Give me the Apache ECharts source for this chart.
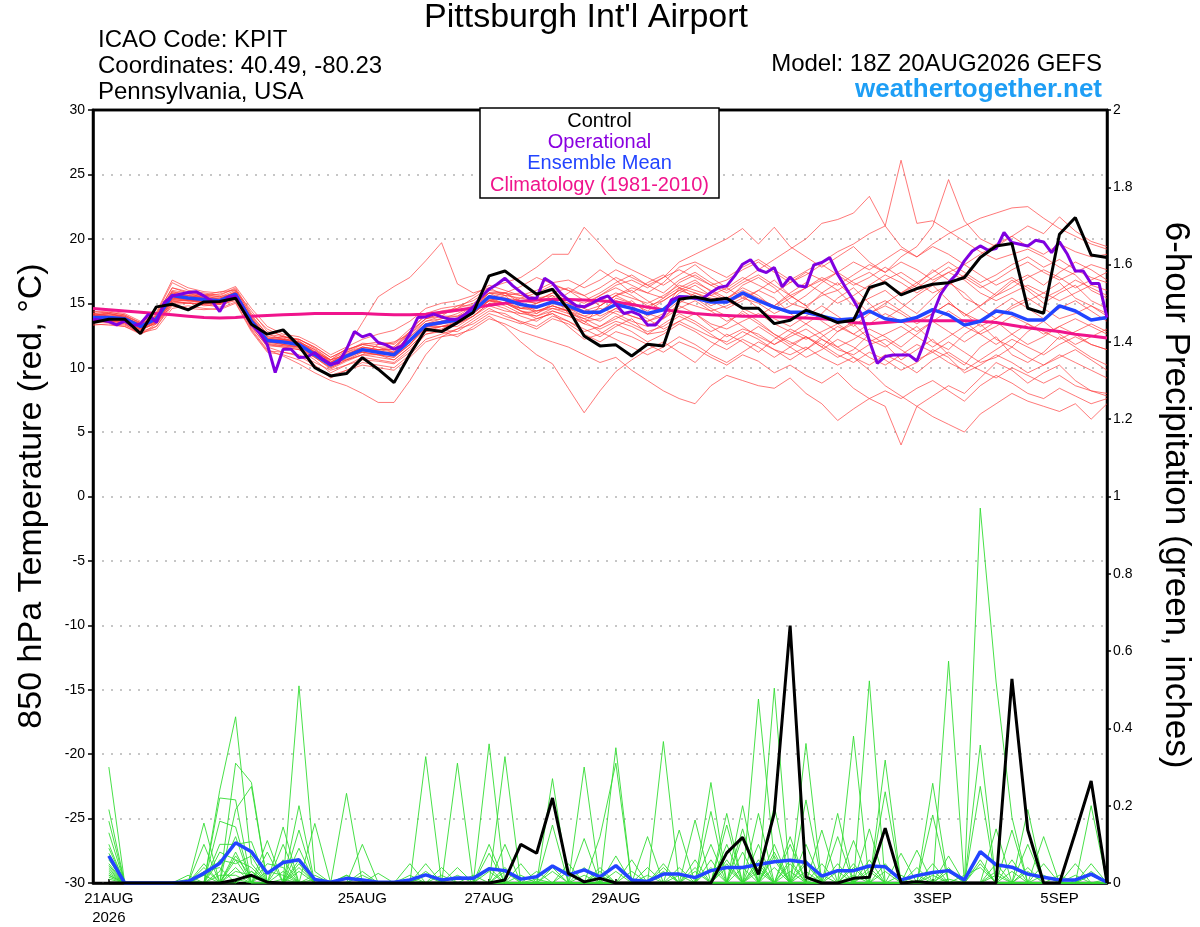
<!DOCTYPE html>
<html><head><meta charset="utf-8">
<script src="https://cdn.jsdelivr.net/npm/echarts@6/dist/echarts.min.js"></script>
<style>html,body{margin:0;padding:0;background:#fff}#chart{width:1200px;height:927px}</style>
</head><body><div id="chart"></div>
<script>
// ---------- axis / tick labels ----------
const tickHours = [6, 54, 102, 150, 198, 270, 318, 366];
const tickLabels = ['21AUG\n2026', '23AUG', '25AUG', '27AUG', '29AUG', '1SEP', '3SEP', '5SEP'];
// forecast hours (6-hourly temp from 0h, 3-hourly operational, 6-hourly precip from 6h)
const tempHours = []; for (let h = 0; h <= 384; h += 6) tempHours.push(h);
const opHours = []; for (let h = 0; h <= 384; h += 3) opHours.push(h);
const precipHours = []; for (let h = 6; h <= 384; h += 6) precipHours.push(h);

// ---------- 850 hPa temperature ----------
const controlTemp = [13.5,13.76,13.76,12.65,14.72,14.92,14.48,15.1,15.13,15.39,
 13.37,12.6,12.93,11.69,10.0,9.36,9.54,10.78,9.88,8.84,
 11.04,12.98,12.8,13.5,14.28,17.12,17.5,16.6,15.7,16.09,
 14.53,12.46,11.69,11.77,10.91,11.82,11.69,15.31,15.49,15.23,
 15.39,14.61,14.61,13.42,13.68,14.46,14.02,13.5,13.68,16.22,
 16.6,15.65,16.14,16.47,16.6,17.0,18.55,19.45,19.63,14.61,
 14.22,20.36,21.65,18.75,18.55];
const operationalTemp = [13.76,13.68,13.58,13.32,13.63,13.24,13.42,14.15,
 13.5,15.05,15.57,15.7,15.83,15.9,15.57,15.18,
 14.35,15.44,15.57,14.4,13.37,12.72,11.8,9.62,
 11.43,11.43,10.78,10.83,11.17,10.65,10.27,10.4,
 11.43,12.8,12.39,12.6,11.95,11.77,11.43,11.7,
 12.6,13.89,13.94,14.15,13.94,13.76,13.76,14.15,
 14.7,15.5,16.09,16.47,16.94,16.35,15.86,15.39,
 15.38,16.94,16.55,15.8,15.25,14.8,14.72,15.0,
 15.35,15.57,14.92,14.2,14.35,14.1,13.32,13.32,
 14.02,15.26,15.49,15.49,15.39,15.39,15.83,16.22,
 16.35,17.12,18.03,18.38,17.6,17.38,17.77,16.27,
 17.04,16.35,16.27,17.98,18.16,18.54,17.25,16.22,
 15.23,14.15,12.08,10.34,10.86,10.99,10.99,10.99,
 10.52,12.08,14.15,15.7,16.6,17.25,18.29,19.06,
 19.45,19.11,19.24,20.49,19.71,19.58,19.45,19.89,
 19.76,18.93,19.76,18.8,17.5,17.5,16.53,16.53,
 13.89];
const meanTemp = [13.9,13.9,13.8,13.2,13.8,15.6,15.4,15.3,15.2,15.7,
 13.6,12.1,12.0,11.8,11.0,10.2,10.9,11.4,11.2,11.0,
 12.1,13.3,13.5,13.7,14.4,15.5,15.3,14.9,14.7,15.1,
 14.8,14.3,14.3,14.9,14.6,14.2,14.5,15.5,15.4,15.1,
 15.1,15.8,15.2,14.7,14.3,14.3,14.0,13.7,13.8,14.4,
 13.8,13.6,13.9,14.5,14.1,13.3,13.6,14.4,14.2,13.7,
 13.7,14.8,14.4,13.7,13.9];
const climatologyTemp = [14.6,14.5,14.4,14.3,14.2,14.1,14.0,13.9,13.85,13.9,
 14.0,14.05,14.1,14.15,14.2,14.2,14.2,14.2,14.15,14.1,
 14.1,14.15,14.3,14.45,14.65,14.85,15.0,15.15,15.25,15.3,
 15.3,15.25,15.2,15.1,14.9,14.7,14.5,14.35,14.2,14.1,
 14.05,14.0,14.0,13.95,13.9,13.85,13.8,13.7,13.5,13.4,
 13.5,13.6,13.65,13.65,13.65,13.65,13.6,13.5,13.3,13.1,
 12.95,12.8,12.6,12.45,12.3];

const tempMember01 = [14.2,14.0,13.6,13.0,14.1,16.2,15.8,15.6,15.9,16.0, 14.4,12.8,12.5,11.9,11.3,10.5,10.6,11.0,11.8,12.0, 12.6,13.6,14.0,14.8,15.2,16.0,15.8,16.3,17.0,16.5, 16.0,15.6,16.2,17.0,16.4,15.8,16.6,17.8,18.2,17.6, 17.0,17.8,18.4,17.6,16.8,17.5,18.2,19.0,19.6,20.4, 21.0,26.1,21.2,21.4,20.6,19.8,19.0,18.4,18.8,19.2, 18.6,17.8,17.2,16.0,15.4];
const tempMember02 = [13.6,13.5,13.3,12.8,13.2,15.0,15.1,14.8,14.9,15.2, 13.2,11.6,11.2,11.0,10.4,9.8,10.2,10.6,10.5,10.3, 11.2,12.6,12.9,12.8,13.6,14.4,14.2,13.5,13.0,13.8, 13.4,12.6,12.0,12.8,12.4,11.8,11.2,12.0,11.5,10.8, 10.2,11.0,10.5,9.6,10.2,9.4,8.8,9.6,8.4,7.6, 7.0,4.0,7.0,7.8,8.6,8.0,9.2,10.4,9.8,8.8, 9.6,10.2,9.0,8.2,7.8];
const tempMember03 = [14.0,14.3,14.1,13.4,13.9,15.8,15.5,15.6,15.3,15.9, 13.8,12.3,11.8,11.6,11.2,10.6,11.5,13.5,15.5,16.3, 17.0,18.3,19.7,16.5,15.8,16.2,15.6,14.6,15.0,15.6, 14.2,13.4,14.8,15.6,16.0,15.2,14.4,16.2,16.8,15.9, 15.2,16.4,17.0,16.2,15.0,14.6,15.8,16.6,15.4,14.2, 15.0,15.8,16.4,17.6,16.8,15.4,14.8,15.6,16.6,17.2, 16.4,17.4,18.2,17.6,16.8];
const tempMember04 = [13.5,13.7,13.4,12.6,13.4,14.9,15.0,14.9,14.7,15.4, 13.0,11.4,10.9,10.3,9.6,9.0,8.6,8.0,7.3,7.3, 9.0,11.0,12.4,13.0,13.8,14.6,14.0,13.6,13.2,14.0, 13.6,13.0,12.4,13.2,13.8,12.6,13.4,14.2,13.6,12.8, 13.4,14.4,13.6,12.6,11.8,12.4,11.6,10.8,11.4,12.6, 11.8,10.6,11.4,12.2,11.0,10.2,11.6,12.4,11.0,10.4, 11.2,12.4,11.6,10.8,10.2];
const tempMember05 = [14.3,14.4,14.2,13.6,14.2,16.6,16.0,15.8,15.6,16.2, 14.2,13.0,12.4,12.2,11.6,10.8,11.4,11.8,12.0,11.8, 12.8,13.8,14.2,14.6,15.4,16.2,16.6,17.0,17.8,18.8, 18.8,20.9,19.6,18.2,17.6,17.0,16.4,17.2,18.0,17.0, 16.2,15.4,16.0,16.8,15.6,14.8,15.6,16.0,14.8,15.4, 16.0,15.0,14.2,15.4,16.6,15.8,14.6,13.8,14.6,15.2, 15.8,16.6,15.4,14.8,14.2];
const tempMember06 = [13.7,13.6,13.5,12.9,13.5,15.2,15.0,14.9,15.0,15.5, 13.4,11.8,11.6,11.4,10.6,9.6,10.2,10.8,10.6,10.4, 11.4,12.6,12.8,12.4,13.2,14.0,13.2,12.0,11.0,10.3, 8.4,6.5,8.2,9.7,10.6,11.4,12.0,11.2,10.4,11.6, 12.6,12.0,11.2,12.2,13.0,12.4,11.6,12.8,13.4,12.2, 11.6,12.4,13.2,12.0,11.4,12.6,13.4,12.2,11.6,12.8, 13.6,12.6,11.8,12.4,13.0];
const tempMember07 = [14.1,14.2,13.9,13.4,14.0,15.9,15.7,15.5,15.4,15.8, 13.9,12.4,12.2,12.0,11.4,10.4,11.0,11.6,11.4,11.2, 12.4,13.6,13.8,14.2,14.8,15.8,15.6,15.4,15.2,15.8, 15.4,15.0,15.6,16.4,16.8,16.2,17.0,18.2,18.8,19.4, 20.0,20.8,19.6,20.9,19.4,18.6,17.8,18.6,19.4,18.2, 17.4,18.2,17.6,16.8,17.4,18.0,17.2,16.4,17.0,16.2, 15.4,16.0,16.8,16.2,15.6];
const tempMember08 = [13.4,13.3,13.2,12.7,13.0,14.6,14.8,14.6,14.5,15.0, 12.8,11.2,11.0,10.6,10.0,9.4,9.8,10.2,10.0,9.8, 10.8,12.0,12.4,12.6,13.0,13.8,13.4,12.8,12.4,12.0, 11.6,11.0,10.4,10.8,9.8,9.0,8.2,7.6,7.2,8.6, 9.4,9.0,8.6,8.4,9.2,8.0,7.2,5.9,6.8,7.6, 8.2,7.6,8.4,9.0,8.2,7.4,8.6,9.4,8.8,8.0, 7.6,8.4,7.8,7.2,7.6];
const tempMember09 = [13.8,14.0,13.9,13.3,13.7,15.4,15.6,15.4,15.2,15.6, 13.5,12.0,11.9,11.9,11.2,10.4,11.2,11.8,11.6,11.6, 12.6,13.8,14.2,14.4,14.6,15.2,15.0,15.4,15.8,16.4, 16.0,15.2,15.8,16.6,17.2,16.4,15.8,16.8,17.4,16.6, 16.0,16.8,17.6,18.4,19.2,20.0,21.2,21.5,22.0,23.3, 21.0,19.4,18.6,19.6,20.4,21.0,21.6,22.0,22.4,22.5, 21.6,20.8,20.2,19.6,19.2];
const tempMember10 = [14.0,13.8,13.7,13.1,13.6,15.5,15.3,15.2,15.1,15.6, 13.7,12.2,12.2,12.0,11.2,10.4,11.2,11.6,11.4,11.4, 12.8,14.2,14.6,14.8,14.8,15.6,15.2,14.4,14.2,14.8, 14.4,13.8,14.2,15.4,15.0,14.4,15.2,16.0,15.6,14.8, 15.4,16.2,15.6,14.6,15.4,16.2,17.0,16.4,17.2,18.0, 17.4,18.6,19.4,21.0,24.6,21.4,20.0,19.4,20.2,21.0, 20.4,21.7,20.6,19.8,19.4];
const tempMember11 = [13.6,13.8,13.6,13.0,13.6,15.4,15.2,15.0,15.0,15.4, 13.4,11.9,11.7,11.5,10.8,10.0,10.6,11.2,11.0,10.8, 11.8,13.0,13.2,13.4,14.0,15.0,14.6,14.0,13.6,14.4, 14.0,13.4,13.0,13.6,13.2,12.6,12.8,13.6,13.0,12.4, 12.0,12.8,12.2,11.4,11.0,11.6,10.8,10.2,10.8,9.8, 8.6,7.8,7.0,6.2,5.6,5.0,6.4,7.2,8.0,7.4, 7.0,6.6,7.2,6.0,7.2];
const tempMember12 = [14.4,14.2,14.0,13.5,14.3,16.8,16.2,15.9,15.8,16.3, 14.6,13.2,12.6,12.4,11.8,11.0,11.6,12.2,12.6,12.9, 13.6,14.6,15.0,15.2,15.6,16.4,16.0,15.6,15.2,15.8, 16.2,15.6,14.8,15.6,16.2,15.8,15.4,16.6,17.2,16.4, 15.8,16.6,17.2,16.4,15.6,16.2,16.8,17.4,16.6,16.0, 16.8,17.4,16.6,15.8,16.4,17.2,16.4,15.6,16.2,17.0, 17.6,17.0,16.2,16.8,17.4];
const tempMember13 = [13.3,13.4,13.2,12.6,13.2,14.8,14.6,14.5,14.6,15.1, 12.9,11.3,11.2,10.9,10.2,9.2,9.8,10.4,10.2,10.0, 11.0,12.2,12.6,13.0,13.4,14.2,13.8,13.4,13.8,14.2, 13.2,12.2,12.6,13.4,12.8,12.0,12.6,13.4,12.8,12.0, 11.4,12.2,11.6,10.8,11.6,12.4,11.8,11.0,10.4,11.2, 10.6,9.8,10.4,11.4,10.8,9.6,10.2,11.0,10.4,9.6, 10.2,11.0,10.4,9.8,9.2];
const tempMember14 = [14.2,14.1,14.0,13.3,13.9,15.6,15.6,15.7,15.5,15.8, 13.8,12.0,11.8,11.6,10.8,10.0,10.6,11.0,11.0,10.8, 11.8,13.2,13.6,13.8,14.6,15.8,15.8,15.2,15.0,15.4, 15.2,14.6,14.0,14.6,15.2,14.2,13.8,15.0,15.8,15.4, 15.0,15.6,14.6,13.8,13.2,14.0,14.8,14.0,13.2,14.2, 14.8,14.2,13.4,14.2,15.0,14.2,13.6,14.6,15.4,14.6, 13.8,14.6,15.2,14.4,13.6];
const tempMember15 = [13.9,13.7,13.5,13.0,13.5,15.3,15.4,15.6,15.7,16.1, 14.0,12.6,12.2,11.8,11.2,10.6,11.0,11.2,11.0,10.6, 11.6,12.8,13.0,13.6,14.2,15.4,15.8,15.0,14.2,15.0, 15.8,16.6,17.6,16.8,15.8,16.6,17.2,16.2,15.4,14.6, 14.0,13.2,12.4,11.8,12.6,13.4,12.6,11.6,12.2,13.0, 12.4,11.6,12.6,13.6,12.8,12.0,12.8,13.6,12.6,11.8, 12.4,13.2,12.6,11.8,11.4];
const tempMember16 = [13.5,13.6,13.7,13.1,13.7,15.2,15.2,15.1,15.1,15.5, 13.3,12.0,12.1,12.0,11.4,10.6,11.0,11.2,11.0,11.2, 12.2,13.2,13.2,13.4,14.0,15.0,15.0,14.6,14.4,14.6, 14.4,14.0,13.6,14.4,14.0,13.6,14.2,15.2,14.8,14.4, 14.8,15.4,15.0,14.2,14.8,15.6,16.6,17.4,18.2,17.6, 18.4,19.2,18.6,19.4,18.8,18.0,18.8,19.6,20.2,19.4, 18.8,19.6,19.0,18.6,18.8];
const tempMember17 = [14.0,13.9,13.9,13.3,13.9,15.7,15.3,15.0,14.9,15.5, 13.5,12.1,12.2,12.2,11.6,10.8,11.4,11.8,11.6,11.2, 12.2,13.4,13.8,14.0,14.8,15.8,15.2,14.6,14.6,15.2, 14.6,14.2,14.6,14.2,13.6,13.2,13.8,14.6,15.2,14.4, 13.6,14.2,13.4,12.6,12.0,11.4,12.2,11.6,10.8,10.2, 11.0,10.4,9.6,10.6,11.2,10.4,9.8,9.2,10.0,9.4, 8.8,9.4,8.6,8.2,8.0];
const tempMember18 = [14.1,14.0,13.8,13.4,14.0,16.0,15.8,15.4,15.2,15.8, 13.7,12.2,12.4,12.1,11.2,10.2,10.8,11.4,11.4,11.6, 12.8,13.8,14.0,14.0,14.4,15.2,15.6,15.8,15.4,15.6, 15.0,14.6,15.2,15.8,15.4,15.0,15.6,16.4,16.0,15.6, 16.2,17.0,16.4,15.8,16.6,17.4,16.8,16.0,16.8,17.4, 16.6,15.8,16.6,17.4,18.2,17.4,16.6,17.2,18.0,18.6, 17.8,18.4,17.6,17.0,16.6];
const tempMember19 = [13.8,13.5,13.4,12.9,13.5,15.1,15.3,15.2,15.0,15.3, 13.1,11.7,11.6,11.4,10.8,9.9,10.5,11.0,10.8,10.6, 11.6,12.8,13.2,13.2,14.0,14.8,14.4,14.2,14.0,14.4, 14.0,13.6,13.8,14.6,14.0,13.6,14.0,14.8,14.2,13.4, 13.0,13.6,14.2,13.4,12.8,12.2,12.8,13.4,12.6,12.0, 12.6,13.2,12.4,11.6,12.4,13.2,12.6,11.8,12.6,13.4, 12.8,12.2,12.8,13.4,12.8];
const tempMember20 = [14.0,14.2,14.0,13.2,13.8,15.8,15.5,15.3,15.4,15.8, 13.8,12.2,12.0,11.8,11.0,10.2,11.0,11.6,11.4,11.4, 12.4,13.4,13.6,13.8,14.4,15.4,15.0,14.6,14.8,15.0, 14.6,14.0,14.4,15.2,14.8,14.0,14.6,15.8,16.4,15.6, 15.2,14.6,14.0,14.8,15.6,14.8,13.6,12.8,13.6,14.6, 15.2,14.4,13.6,14.2,15.0,14.2,13.2,13.8,14.8,15.4, 14.6,13.8,14.2,14.8,14.0];
const tempMember21 = [13.9,14.1,13.9,13.2,13.9,15.5,15.2,15.2,15.3,15.9, 13.9,12.4,12.3,11.9,11.0,10.1,10.7,11.3,11.2,11.1, 12.0,13.1,13.4,13.9,14.6,15.6,15.4,15.0,14.4,14.8, 14.4,14.8,15.6,16.2,15.6,14.8,15.2,16.0,16.6,16.0, 15.4,16.0,15.4,14.8,15.8,16.6,15.8,15.0,15.6,16.4, 17.2,16.6,15.8,16.6,17.4,16.8,15.8,15.2,15.8,16.4, 15.8,15.2,15.8,16.4,16.0];
const tempMember22 = [13.7,13.8,13.7,13.1,13.6,15.4,15.3,15.1,15.0,15.6, 13.6,12.0,11.8,11.7,10.9,10.1,10.8,11.4,11.3,11.0, 12.0,13.0,13.2,13.6,14.2,15.2,15.0,14.4,14.0,14.6, 14.2,13.8,13.2,13.8,14.4,13.8,13.0,13.6,14.2,13.2, 12.4,13.0,12.6,11.8,12.4,13.0,12.2,11.4,11.0,11.8, 12.2,11.4,10.6,11.2,12.0,11.2,10.4,10.8,11.6,10.8, 10.2,10.8,11.4,10.6,9.8];
const tempMember23 = [14.1,13.9,13.7,13.2,13.9,15.9,15.6,15.4,15.3,15.7, 13.8,12.3,12.1,11.9,11.1,10.3,11.1,11.5,11.3,11.1, 12.2,13.4,13.6,13.6,14.2,15.2,15.4,15.2,15.0,15.4, 15.0,14.4,14.8,15.6,15.0,14.6,15.4,16.2,15.8,15.2, 14.6,15.2,16.0,15.4,14.2,13.4,14.2,15.4,16.2,15.0, 13.8,14.6,15.6,16.4,15.2,14.0,14.8,15.8,16.8,16.0, 15.0,15.8,16.4,15.2,14.6];
const tempMember24 = [13.6,13.6,13.5,13.0,13.4,15.1,15.0,15.0,15.1,15.5, 13.3,11.8,11.7,11.6,10.9,10.2,10.9,11.4,11.2,10.9, 11.8,13.2,13.6,13.8,14.4,15.3,15.0,14.4,13.8,14.2, 13.6,12.8,13.2,14.0,13.4,12.8,13.2,14.0,13.4,12.6, 11.8,12.4,13.2,12.4,11.6,10.8,11.4,12.2,11.6,10.8, 10.2,11.0,11.8,11.2,10.4,9.8,10.6,11.4,12.2,11.6, 11.0,11.8,12.4,11.8,11.4];
const tempMember25 = [14.2,14.3,14.1,13.5,14.1,16.2,15.9,15.6,15.5,16.0, 14.1,12.6,12.4,12.2,11.5,10.6,11.3,11.9,11.8,11.9, 13.0,14.0,14.4,14.6,15.0,15.8,15.8,15.6,16.0,16.6, 16.8,16.2,16.8,17.6,17.0,16.4,17.0,17.6,17.0,16.4, 16.8,17.6,18.2,17.4,16.6,17.2,18.0,17.2,16.4,17.0, 17.8,17.0,16.2,17.0,17.8,17.0,16.2,16.8,17.6,18.2, 17.4,16.8,17.4,18.0,17.6];
const tempMember26 = [13.8,13.7,13.6,13.1,13.7,15.3,15.2,15.2,15.0,15.4, 13.5,12.1,12.0,11.8,11.0,10.2,10.8,11.3,11.1,11.0, 12.1,13.3,13.4,13.6,14.2,15.2,14.8,14.2,14.4,14.8, 14.4,13.6,12.8,12.2,11.6,11.0,11.6,12.4,11.8,11.0, 10.4,11.2,12.0,11.4,10.6,11.4,12.4,13.2,12.6,13.4, 14.2,13.6,12.8,13.6,14.4,13.6,12.6,13.2,14.0,13.4, 12.6,13.2,13.8,13.2,12.6];
const tempMembers = [tempMember01,tempMember02,tempMember03,tempMember04,tempMember05,tempMember06,tempMember07,tempMember08,tempMember09,tempMember10,
 tempMember11,tempMember12,tempMember13,tempMember14,tempMember15,tempMember16,tempMember17,tempMember18,tempMember19,tempMember20,
 tempMember21,tempMember22,tempMember23,tempMember24,tempMember25,tempMember26];

// ---------- 6-hour precipitation (inches) ----------
const controlPrecip = [0,0,0,0,0,0,0,0,0.008,0.02, 0.002,0,0,0,0,0,0,0,0,0, 0,0,0,0,0,0.008,0.1,0.077,0.22,0.025, 0.003,0.012,0,0,0,0,0,0,0,0.078, 0.118,0.022,0.181,0.666,0.015,0,0,0.012,0.015,0.142, 0,0.003,0,0,0,0,0,0.528,0.137,0, 0,0.13,0.264,0];
const meanPrecip = [0.07,0,0,0,0,0.004,0.025,0.051,0.104,0.081, 0.025,0.053,0.06,0.009,0.002,0.012,0.008,0.002,0.002,0.008, 0.021,0.008,0.013,0.012,0.037,0.032,0.01,0.016,0.044,0.021, 0.034,0.016,0.045,0.008,0.004,0.023,0.023,0.014,0.032,0.04, 0.04,0.048,0.055,0.059,0.053,0.018,0.032,0.032,0.044,0.042, 0.008,0.019,0.027,0.032,0.008,0.081,0.047,0.041,0.023,0.015, 0.008,0.008,0.023,0.002];
const precipMember01 = [.30,0,0,0,0,0,0,.24,.43,.05, 0,0,.51,.03,0,0,0,0,0,0, .327,0,0,0,.1,0,0,0,0,0, 0,0,.35,0,0,0,0,0,.1,0, 0,.476,.06,0,0,0,0,0,.06,0, 0,0,0,0,0,.97,.52,.17,0,0, 0,0,.05,0];
const precipMember02 = [.19,0,0,0,0,0,.155,0,.31,.26, 0,.06,0,0,0,.232,0,0,0,0, 0,0,.31,0,0,0,0,0,.27,0, 0,0,0,0,0,.366,0,0,0,.06, 0,0,.504,0,.1,0,0,0,0,.318, 0,0,0,.07,0,0,0,0,.19,0, 0,0,0,0];
const precipMember03 = [.16,0,0,0,0,0,0,.22,.215,0, .11,0,.2,0,0,0,.1,0,0,0, 0,0,0,0,.36,0,0,0,0,0, .30,0,0,0,.12,0,0,0,0,0, .2,0,0,0,.361,0,0,.11,0,0, 0,0,.258,0,0,.06,0,0,0,.12, 0,0,0,0];
const precipMember04 = [.13,0,0,0,0,0,.1,0,.19,.25, 0,.145,0,.154,0,0,0,0,0,0, 0,0,0,0,0,.327,0,0,0,0, 0,.12,.31,0,0,0,0,0,.26,0, 0,.18,0,0,0,0,.18,0,.523,0, 0,0,0,.574,0,0,0,0,0,0, 0,0,.2,0];
const precipMember05 = [.09,0,0,0,0,0,0,.16,.145,0, .08,0,.137,0,0,0,0,.025,0,0, 0,0,.04,0,0,.1,0,0,0,.05, 0,0,0,0,0,0,.137,0,0,.18, 0,0,0,.12,0,0,0,.38,0,0, 0,0,0,0,0,.357,0,.06,0,0, 0,0,0,0];
const precipMember06 = [.077,0,0,0,0,.02,0,.1,.1,.107, 0,0,.09,0,0,0,.03,0,0,0, .05,0,0,0,0,0,0,0,.15,0, 0,0,0,.06,0,0,0,.163,0,0, .14,0,.2,0,0,0,0,0,0,.236, 0,0,.176,0,0,0,.14,0,0,0, 0,0,0,0];
const precipMember07 = [.06,0,0,0,0,0,.05,0,.08,0, 0,.1,0,0,0,.02,0,0,0,.05, 0,0,0,0,.077,0,0,0,0,0, .115,0,0,0,0,.05,0,0,.185,0, 0,.1,0,0,.215,0,.12,0,0,0, .077,0,0,0,0,.25,0,0,.1,0, 0,0,0,0];
const precipMember08 = [.04,0,0,0,0,0,0,.06,.05,.07, 0,0,.05,0,0,0,0,0,0,0, 0,.04,0,0,0,0,.05,0,0,0, 0,.04,0,0,.04,0,0,0,0,.15, 0,0,0,.1,0,.137,0,0,.14,0, 0,.085,0,0,0,0,0,.137,0,0, 0,.05,0,0];
const precipMember09 = [.03,0,0,0,0,.01,0,0,.04,0, .05,.04,0,0,0,0,0,0,0,0, .03,0,0,0,0,0,0,.03,0,0, 0,0,.07,0,0,0,.04,0,0,0, .12,0,.1,0,0,0,.05,0,0,.05, 0,0,.05,0,0,0,0,0,0,.05, 0,0,0,0];
const precipMember10 = [.02,0,0,0,0,0,.03,.04,0,.03, 0,0,0,.02,0,0,0,0,0,0, 0,0,0,.02,0,0,0,0,.04,0, 0,0,0,.03,0,0,0,0,0,.1, 0,.05,0,0,0,.05,0,0,0,0, 0,.04,0,0,0,0,.05,0,0,0, .02,0,0,0];
const precipMember11 = [.05,0,0,0,0,0,0,0,.06,.04, 0,0,.06,0,0,0,0,0,0,0, 0,.02,0,0,0,.04,0,0,0,0, .04,0,0,0,0,0,0,.06,0,0, .08,0,0,.06,0,0,0,.04,0,0, 0,0,0,.03,0,0,0,0,.04,0, 0,0,0,.01];
const precipMember12 = [.1,0,0,0,0,0,0,.03,.12,0, .03,.02,0,0,0,0,0,0,0,0, 0,0,.02,0,0,0,0,0,0,.03, 0,0,0,0,0,.03,0,0,.06,0, 0,0,.08,0,.05,0,0,0,.03,0, 0,0,0,0,.02,.04,0,0,0,0, 0,0,0,0];
const precipMember13 = [.025,0,0,0,0,0,.02,0,.03,.02, 0,0,0,0,0,0,.02,0,0,0, 0,0,0,0,0,0,.02,0,0,0, 0,.03,0,0,0,0,.02,0,0,.04, 0,.03,0,0,0,0,.03,0,0,0, 0,0,.02,0,0,0,0,.03,0,0, 0,0,0,0];
const precipMember14 = [.015,0,0,0,0,0,0,.02,.02,0, 0,0,.03,0,0,0,0,0,0,.02, 0,0,0,0,.03,0,0,0,0,0, 0,0,.03,0,0,0,0,0,0,0, .04,0,.04,0,0,0,0,0,0,.03, 0,0,0,0,0,0,0,0,0,.02, 0,0,0,0];
const precipMember15 = [.01,0,0,0,0,.005,0,0,.01,0, 0,.01,0,0,0,0,0,0,0,0, 0,0,0,0,0,0,0,.01,0,0, 0,0,0,0,.02,0,0,0,.04,0, 0,0,0,.03,0,.02,0,0,0,0, 0,.02,0,0,0,0,.02,0,0,0, 0,.02,0,0];
const precipMember16 = [.035,0,0,0,0,0,0,0,.07,.015, 0,0,0,.01,0,0,0,0,0,0, .02,0,0,0,0,0,0,0,0,0, .02,0,0,0,0,0,0,.03,0,0, 0,.04,0,0,.03,0,0,.02,0,0, 0,0,0,.01,0,0,0,0,0,0, 0,0,.03,0];
const precipMember17 = [.045,0,0,0,0,0,0,.08,.06,0, 0,.03,0,0,0,.02,0,0,0,0, 0,0,0,0,.04,0,0,0,.03,0, 0,0,0,0,0,.04,0,0,0,.05, 0,0,.07,0,.06,0,0,0,.04,0, 0,0,.03,0,0,.05,0,0,.03,0, 0,0,0,0];
const precipMember18 = [.02,0,0,0,0,0,.04,0,0,.03, 0,0,.04,0,0,0,0,0,0,.01, 0,0,0,0,0,.03,0,0,0,0, 0,.02,0,0,0,0,0,.04,0,0, 0,.06,0,.05,0,0,0,.05,0,0, .02,0,0,.04,0,0,.03,0,0,0, 0,0,.02,0];
const precipMembers = [precipMember01,precipMember02,precipMember03,precipMember04,precipMember05,precipMember06,precipMember07,precipMember08,
 precipMember09,precipMember10,precipMember11,precipMember12,precipMember13,precipMember14,precipMember15,precipMember16,precipMember17,precipMember18];

// ---------- build chart ----------
const FONT = 'Liberation Sans, Arial, Helvetica, sans-serif';
function pairs(xs, vs) { return vs.map((v, i) => [xs[i], v]); }
function line(name, xs, vs, color, width, yIndex) {
  return { type: 'line', name, data: pairs(xs, vs), yAxisIndex: yIndex, symbol: 'none', showSymbol: false,
    lineStyle: { color, width }, itemStyle: { color }, silent: true, animation: false, emphasis: { disabled: true } };
}
const series = [];
tempMembers.forEach((m, i) => series.push(line('member' + (i + 1), tempHours, m, 'rgba(255,55,55,0.75)', 0.9, 0)));
precipMembers.forEach((m, i) => series.push(line('precip member' + (i + 1), precipHours, m, '#33dd33', 0.9, 1)));
series.push(line('Climatology (1981-2010)', tempHours, climatologyTemp, '#f0148c', 3, 0));
series.push(line('Ensemble Mean', tempHours, meanTemp, '#2244ff', 3.5, 0));
series.push(line('Ensemble Mean precip', precipHours, meanPrecip, '#2244ff', 3.5, 1));
series.push(line('Operational', opHours, operationalTemp, '#8000e0', 3, 0));
series.push(line('Control', tempHours, controlTemp, '#000000', 3, 0));
series.push(line('Control precip', precipHours, controlPrecip, '#000000', 3, 1));

function txt(x, y, text, size, color, align, weight, rotation) {
  return { type: 'text', x, y, rotation: rotation || 0, z: 200,
    style: { text, fill: color, font: (weight || 'normal') + ' ' + size + 'px ' + FONT, textAlign: align, textVerticalAlign: 'middle' } };
}

const chart = echarts.init(document.getElementById('chart'), null, { renderer: 'canvas' });
chart.setOption({
  animation: false,
  backgroundColor: '#fff',
  grid: { left: 93, right: 93, top: 110, bottom: 44, show: true, borderColor: '#000', borderWidth: 2.5, backgroundColor: 'transparent' },
  xAxis: {
    type: 'value', min: 0, max: 384,
    axisLine: { show: true, onZero: false, lineStyle: { color: '#000', width: 2.5 } },
    splitLine: { show: false },
    axisTick: { show: true, inside: true, length: 4, customValues: tickHours, lineStyle: { color: '#000', width: 1.5 } },
    axisLabel: { customValues: tickHours, formatter: v => tickLabels[tickHours.indexOf(v)] || '',
      fontSize: 15, color: '#000', fontFamily: FONT, margin: 6, lineHeight: 19 }
  },
  yAxis: [
    { type: 'value', min: -30, max: 30, interval: 5, position: 'left',
      axisLine: { show: true, onZero: false, lineStyle: { color: '#000', width: 2.5 } },
      axisTick: { show: true, length: 5, lineStyle: { color: '#000', width: 1.5 } },
      axisLabel: { fontSize: 14, color: '#000', fontFamily: FONT, margin: 8 },
      splitLine: { show: true, lineStyle: { color: '#b4b4b4', width: 1.5, type: [2, 7] } } },
    { type: 'value', min: 0, max: 2, interval: 0.2, position: 'right',
      axisLine: { show: true, onZero: false, lineStyle: { color: '#000', width: 2.5 } },
      axisTick: { show: true, length: 4, lineStyle: { color: '#000', width: 1.5 } },
      axisLabel: { fontSize: 14, color: '#000', fontFamily: FONT, margin: 6 },
      splitLine: { show: false } }
  ],
  graphic: [
    { type: 'line', z: 150, shape: { x1: 92, y1: 110, x2: 1108, y2: 110 }, style: { stroke: '#000', lineWidth: 2.5 } },
    txt(586, 18, "Pittsburgh Int'l Airport", 34, '#000', 'center'),
    txt(98, 40, 'ICAO Code: KPIT', 24, '#000', 'left'),
    txt(98, 66, 'Coordinates: 40.49, -80.23', 24, '#000', 'left'),
    txt(98, 92, 'Pennsylvania, USA', 24, '#000', 'left'),
    txt(1102, 64, 'Model: 18Z 20AUG2026 GEFS', 24, '#000', 'right'),
    txt(1102, 90, 'weathertogether.net', 26, '#1e9ef5', 'right', 'bold'),
    { type: 'rect', z: 190, shape: { x: 480, y: 108, width: 239, height: 90 }, style: { fill: '#fff', stroke: '#000', lineWidth: 1.5 } },
    txt(599.5, 121, 'Control', 20, '#000', 'center'),
    txt(599.5, 142, 'Operational', 20, '#8a00e0', 'center'),
    txt(599.5, 163, 'Ensemble Mean', 20, '#2244ff', 'center'),
    txt(599.5, 185, 'Climatology (1981-2010)', 20, '#f0148c', 'center'),
    txt(32, 496, '850 hPa Temperature (red, \u00B0C)', 34, '#000', 'center', 'normal', Math.PI / 2),
    txt(1176, 495, '6-hour Precipitation (green, inches)', 35, '#000', 'center', 'normal', -Math.PI / 2)
  ],
  series
});
</script></body></html>
